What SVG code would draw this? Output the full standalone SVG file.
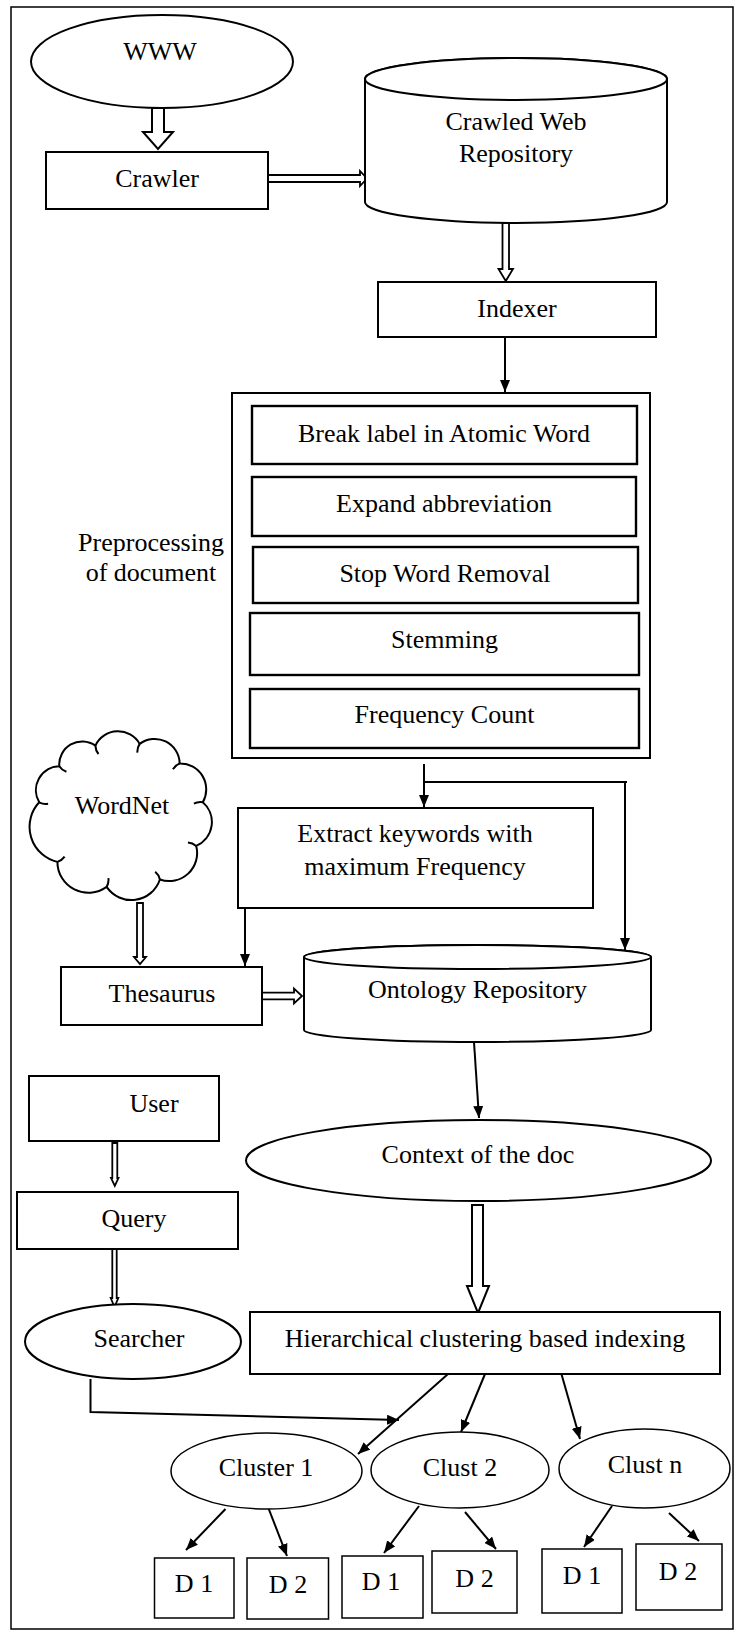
<svg xmlns="http://www.w3.org/2000/svg" width="738" height="1632" viewBox="0 0 738 1632">
<style>
.box{fill:#fff;stroke:#000;stroke-width:2}
.ib{fill:#fff;stroke:#000;stroke-width:2.4}
.thin{fill:#fff;stroke:#000;stroke-width:1.5}
.hook{fill:none;stroke:#000;stroke-width:2}
.t{font-family:"Liberation Serif","Times New Roman",serif;font-size:26px;text-anchor:middle;fill:#000}
.ln{fill:none;stroke:#000;stroke-width:2;marker-end:url(#ah)}
.blk{fill:#fff;stroke:#000;stroke-width:2;stroke-linejoin:miter}
.dbl{fill:#fff;stroke:#000;stroke-width:1.8;stroke-linejoin:miter}
</style>
<defs>
<marker id="ah" viewBox="0 0 12 10" refX="12" refY="5" markerWidth="12" markerHeight="10" markerUnits="userSpaceOnUse" orient="auto"><path d="M0,0 L12,5 L0,10 z" fill="#000"/></marker>
</defs>
<rect x="0" y="0" width="738" height="1632" fill="#fff"/>
<rect x="11" y="7" width="722" height="1622" fill="none" stroke="#000" stroke-width="1.5"/>

<g id="connectors">
<polygon class="blk" points="152,108 164,108 164,132 173,132 158,149 143,132 152,132"/>
<polygon class="dbl" points="268,175 360,175 360,171 367,178.5 360,186 360,182 268,182"/>
<polygon class="dbl" points="502.5,223 509,223 509,269 513,269 505.75,281 498.5,269 502.5,269"/>
<path class="ln" d="M505,337 L505,392"/>
<path class="ln" d="M424,764 L424,807"/>
<path fill="none" stroke="#000" stroke-width="2" d="M424,782 L627,782"/>
<path class="ln" d="M625,782 L625,950"/>
<path class="ln" d="M245,908 L245,966"/>
<polygon class="dbl" points="137,903 143,903 143,957 146,957 140,964 134,957 137,957"/>
<polygon class="dbl" points="262,992.7 294,992.7 294,988.5 302,996 294,1003.5 294,999.3 262,999.3"/>
<path class="ln" d="M474,1042 L479,1118"/>
<polygon class="dbl" points="112.3,1143 117.3,1143 117.3,1178 118.5,1178 114.8,1186 111,1178 112.3,1178"/>
<polygon class="dbl" points="112.3,1245 116.7,1245 116.7,1298 118.3,1298 114.5,1307 110.7,1298 112.3,1298"/>
<polygon class="blk" points="472,1205 483,1205 483,1286 489,1286 478,1313 467,1286 472,1286"/>
<path class="ln" d="M90.5,1379 L90.5,1412 L399,1420"/>
<path class="ln" d="M448,1374 L358,1454"/>
<path class="ln" d="M485,1374 L461,1432"/>
<path class="ln" d="M560,1369 L580,1439"/>
<path class="ln" d="M225.5,1509 L186,1550"/>
<path class="ln" d="M268,1507 L287,1556"/>
<path class="ln" d="M419,1506 L384,1553"/>
<path class="ln" d="M465,1512 L496,1549"/>
<path class="ln" d="M612,1506 L584,1547"/>
<path class="ln" d="M669,1513 L699,1541"/>
</g>

<g id="www"><ellipse class="box" cx="162" cy="61.5" rx="131" ry="46.5"/><text class="t" x="160" y="60">WWW</text></g>
<g id="crawler"><rect class="box" x="46" y="152" width="222" height="57"/><text class="t" x="157" y="187">Crawler</text></g>
<g id="crawled-repo">
<path class="box" d="M365,79 L365,202 A151,21 0 0 0 667,202 L667,79 A151,21 0 0 0 365,79 Z"/>
<ellipse class="box" cx="516" cy="79" rx="151" ry="21"/>
<text class="t" x="516" y="130">Crawled Web</text><text class="t" x="516" y="162">Repository</text>
</g>
<g id="indexer"><rect class="box" x="378" y="282" width="278" height="55"/><text class="t" x="517" y="317">Indexer</text></g>

<g id="preprocessing">
<rect class="box" x="232" y="393" width="418" height="365"/>
<text class="t" x="151" y="551">Preprocessing</text>
<text class="t" x="151" y="581">of document</text>
</g>
<g id="break"><rect class="ib" x="252" y="406" width="385" height="58"/><text class="t" x="444" y="442">Break label in Atomic Word</text></g>
<g id="expand"><rect class="ib" x="252" y="477" width="384" height="59"/><text class="t" x="444" y="512">Expand abbreviation</text></g>
<g id="stopword"><rect class="ib" x="253" y="547" width="385" height="56"/><text class="t" x="445" y="582">Stop Word Removal</text></g>
<g id="stemming"><rect class="ib" x="250" y="613" width="389" height="62"/><text class="t" x="444.5" y="648">Stemming</text></g>
<g id="freq"><rect class="ib" x="250" y="689" width="389" height="59"/><text class="t" x="444.5" y="723">Frequency Count</text></g>

<g id="wordnet">
<path class="box" d="M39.2,802.3 A24,24 0 0 1 59.3,766.2 A23,23 0 0 1 95.4,745.6 A25,25 0 0 1 139.7,743.9 A25,25 0 0 1 179.7,763.4 A26,26 0 0 1 202.8,802.3 A26,26 0 0 1 196.2,845.9 A28,28 0 0 1 159.9,879.5 A30,30 0 0 1 106.6,886.9 A31,31 0 0 1 57.4,861.9 A36,36 0 0 1 39.2,802.3 Z"/>
<path class="hook" d="M39.2,802.3 A14,14 0 0 0 48.1,803.7 M59.3,766.2 A14,14 0 0 0 66.4,771.8 M95.4,745.6 A14,14 0 0 0 98.5,754 M139.7,743.9 A14,14 0 0 0 137.4,752.6 M179.7,763.4 A14,14 0 0 0 172.9,769.3 M202.8,802.3 A14,14 0 0 0 193.9,803.7 M196.2,845.9 A14,14 0 0 0 187.9,842.5 M159.9,879.5 A14,14 0 0 0 155.2,871.8 M106.6,886.9 A14,14 0 0 0 108.4,878.1 M57.4,861.9 A14,14 0 0 0 64.6,856.6"/>
<text class="t" x="122" y="814">WordNet</text>
</g>
<g id="extract"><rect class="box" x="238" y="808" width="355" height="100"/><text class="t" x="415" y="842">Extract keywords with</text><text class="t" x="415" y="875">maximum Frequency</text></g>
<g id="thesaurus"><rect class="box" x="61" y="967" width="201" height="58"/><text class="t" x="162" y="1002">Thesaurus</text></g>
<g id="ontology">
<path class="box" d="M304,957 L304,1030 A173.5,12 0 0 0 651,1030 L651,957 A173.5,12 0 0 0 304,957 Z"/>
<ellipse class="box" cx="477.5" cy="957" rx="173.5" ry="12"/>
<text class="t" x="477.5" y="998">Ontology Repository</text>
</g>

<g id="user"><rect class="box" x="29" y="1076" width="190" height="65"/><text class="t" x="154" y="1112">User</text></g>
<g id="query"><rect class="box" x="17" y="1192" width="221" height="57"/><text class="t" x="134" y="1227">Query</text></g>
<g id="searcher"><ellipse class="box" cx="133" cy="1341.5" rx="108" ry="37.5"/><text class="t" x="139" y="1347">Searcher</text></g>
<g id="context"><ellipse class="box" cx="478.5" cy="1160.5" rx="232.5" ry="40.5"/><text class="t" x="478" y="1163">Context of the doc</text></g>
<g id="hierarchical"><rect class="box" x="250" y="1312" width="470" height="62"/><text class="t" x="485" y="1347">Hierarchical clustering based indexing</text></g>

<g id="cluster1"><ellipse class="thin" cx="266.5" cy="1471" rx="95.5" ry="38"/><text class="t" x="266" y="1476">Cluster 1</text></g>
<g id="clust2"><ellipse class="thin" cx="460" cy="1470" rx="89" ry="38"/><text class="t" x="460" y="1476">Clust 2</text></g>
<g id="clustn"><ellipse class="thin" cx="644.5" cy="1468.5" rx="85.5" ry="39.5"/><text class="t" x="645" y="1473">Clust n</text></g>

<g id="c1d1"><rect class="thin" x="154.5" y="1558" width="79.5" height="60"/><text class="t" x="194" y="1592">D 1</text></g>
<g id="c1d2"><rect class="thin" x="247" y="1558" width="81.5" height="61"/><text class="t" x="288" y="1593">D 2</text></g>
<g id="c2d1"><rect class="thin" x="342" y="1556" width="81" height="62"/><text class="t" x="381" y="1590">D 1</text></g>
<g id="c2d2"><rect class="thin" x="432" y="1551" width="85" height="62"/><text class="t" x="474.5" y="1587">D 2</text></g>
<g id="cnd1"><rect class="thin" x="542" y="1549" width="80" height="64"/><text class="t" x="582" y="1584">D 1</text></g>
<g id="cnd2"><rect class="thin" x="636" y="1544" width="86" height="66"/><text class="t" x="678" y="1580">D 2</text></g>
</svg>
